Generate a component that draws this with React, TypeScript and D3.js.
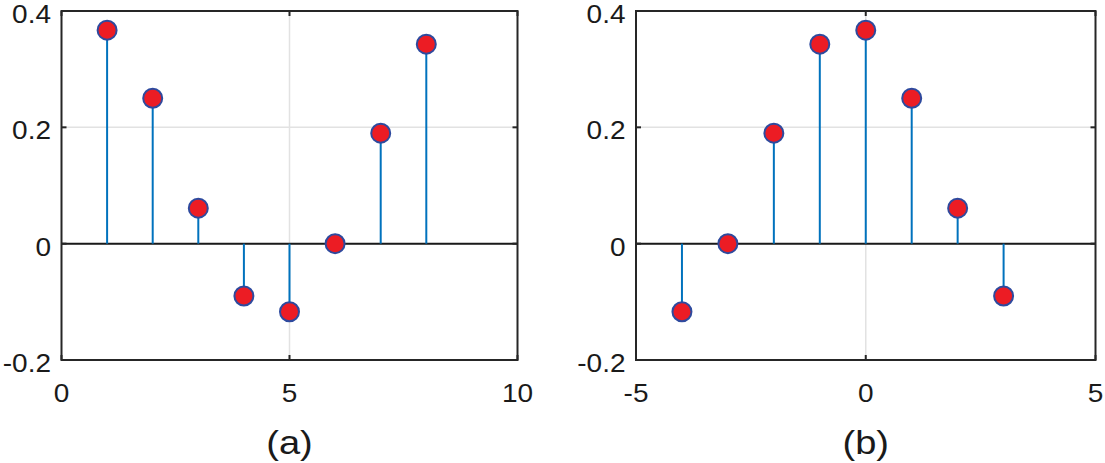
import React from "react";
import * as d3 from "d3";

// panel (a): n = 1..8
const nA = [1, 2, 3, 4, 5, 6, 7, 8];
const valuesA = [0.367, 0.25, 0.061, -0.09, -0.117, 0, 0.19, 0.343];
// panel (b): shifted, n = -4..3
const nB = [-4, -3, -2, -1, 0, 1, 2, 3];
const valuesB = [-0.117, 0, 0.19, 0.343, 0.367, 0.25, 0.061, -0.09];

const xTicksA = [0, 5, 10];
const xTicksB = [-5, 0, 5];
const yTicks = [-0.2, 0, 0.2, 0.4];
const yTickLabels = ["-0.2", "0", "0.2", "0.4"];

const font = "Liberation Sans, Arial, Helvetica, sans-serif";
const stretch = 1.12; // the source glyphs look a little wide

const Label = ({ x, y, size, anchor, children }) => (
  <text
    transform={`translate(${x},${y}) scale(${stretch},1)`}
    textAnchor={anchor}
    fontFamily={font}
    fontSize={size}
    fill="#1a1a1a"
  >
    {children}
  </text>
);

const StemPanel = ({ left, right, xDomain, xTicks, ns, vals, label }) => {
  const top = 11;
  const bottom = 360;
  const x = d3.scaleLinear().domain(xDomain).range([left, right]);
  const y = d3.scaleLinear().domain([-0.2, 0.4]).range([bottom, top]);
  const tick = 5;
  return (
    <g>
      {/* grid */}
      {xTicks.slice(1, -1).map((t) => (
        <line key={"gx" + t} x1={x(t)} x2={x(t)} y1={top} y2={bottom} stroke="#e2e2e2" strokeWidth={1.5} />
      ))}
      {yTicks.slice(1, -1).map((t) => (
        <line key={"gy" + t} x1={left} x2={right} y1={y(t)} y2={y(t)} stroke="#e2e2e2" strokeWidth={1.5} />
      ))}
      {/* baseline */}
      <line x1={left} x2={right} y1={y(0)} y2={y(0)} stroke="#1a1a1a" strokeWidth={2} />
      {/* ticks */}
      {xTicks.map((t) => (
        <g key={"tx" + t}>
          <line x1={x(t)} x2={x(t)} y1={bottom} y2={bottom - tick} stroke="#262626" strokeWidth={2} />
          <line x1={x(t)} x2={x(t)} y1={top} y2={top + tick} stroke="#262626" strokeWidth={2} />
          <Label x={x(t)} y={402} size={25} anchor="middle">{t}</Label>
        </g>
      ))}
      {yTicks.map((t, i) => (
        <g key={"ty" + t}>
          <line x1={left} x2={left + tick} y1={y(t)} y2={y(t)} stroke="#262626" strokeWidth={2} />
          <line x1={right} x2={right - tick} y1={y(t)} y2={y(t)} stroke="#262626" strokeWidth={2} />
          <Label x={left - 10.5} y={y(t) + 12} size={25} anchor="end">{yTickLabels[i]}</Label>
        </g>
      ))}
      {/* stems */}
      {ns.map((n, i) => (
        <line key={"s" + n} x1={x(n)} x2={x(n)} y1={y(0)} y2={y(vals[i])} stroke="#0072BD" strokeWidth={2} />
      ))}
      {ns.map((n, i) => (
        <circle key={"m" + n} cx={x(n)} cy={y(vals[i])} r={9.5} fill="#ec1c24" stroke="#2e4a9e" strokeWidth={2} />
      ))}
      {/* box */}
      <rect x={left} y={top} width={right - left} height={bottom - top} fill="none" stroke="#262626" strokeWidth={2} />
      <Label x={(left + right) / 2} y={454} size={34} anchor="middle">{label}</Label>
    </g>
  );
};

export default function App() {
  return (
    <svg width={1105} height={463} style={{ position: "absolute", left: 0, top: 0, background: "#fff" }}>
      <rect width={1105} height={463} fill="#fff" />
      <StemPanel left={61.5} right={517.5} xDomain={[0, 10]} xTicks={xTicksA} ns={nA} vals={valuesA} label="(a)" />
      <StemPanel left={636} right={1095.5} xDomain={[-5, 5]} xTicks={xTicksB} ns={nB} vals={valuesB} label="(b)" />
    </svg>
  );
}
